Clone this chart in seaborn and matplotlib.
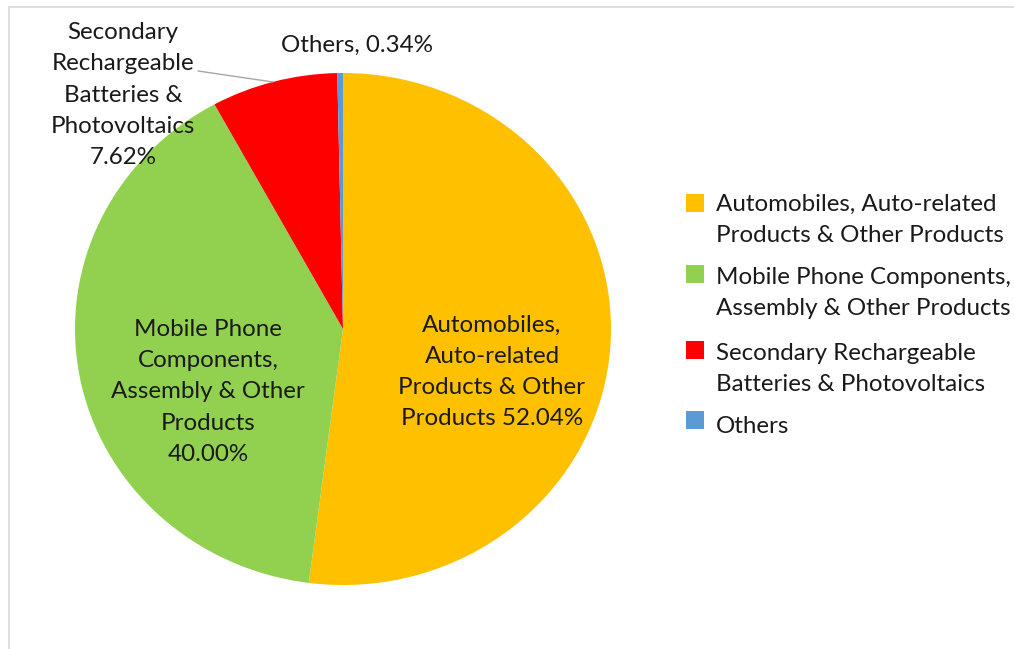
import matplotlib
matplotlib.use("Agg")
import matplotlib.pyplot as plt
import matplotlib.patches as mpatches
import seaborn as sns

categories = ["Automobiles, Auto-related Products & Other Products",
              "Mobile Phone Components, Assembly & Other Products",
              "Secondary Rechargeable Batteries & Photovoltaics",
              "Others"]
values = [52.04, 40.00, 7.62, 0.34]
legend_labels = ["Automobiles, Auto-related\nProducts & Other Products",
                 "Mobile Phone Components,\nAssembly & Other Products",
                 "Secondary Rechargeable\nBatteries & Photovoltaics",
                 "Others"]
slice_labels = ["Automobiles,\nAuto-related\nProducts & Other\nProducts 52.04%",
                "Mobile Phone\nComponents,\nAssembly & Other\nProducts\n40.00%",
                "Secondary\nRechargeable\nBatteries &\nPhotovoltaics\n7.62%",
                "Others, 0.34%"]
colors = ["#FFC000", "#92D050", "#FF0000", "#5B9BD5"]

sns.set_theme(style="white")
plt.rcParams["font.family"] = ["Lato", "DejaVu Sans"]

W, H = 1014, 649
fig = plt.figure(figsize=(W / 100, H / 100), dpi=100)


def fx(x):
    return x / W


def fy(y):
    return 1 - y / H


# chart border (extends past right and bottom edges)
fig.patches.append(mpatches.Rectangle((fx(9), fy(720)), fx(1100), (720 - 7) / H,
                                      transform=fig.transFigure, fill=False,
                                      edgecolor="#d9d9d9", lw=1.2))

left, right, top, bottom = 75, 611, 73, 585
ax = fig.add_axes([fx(left), fy(bottom), (right - left) / W, (bottom - top) / H])
wedges, _ = ax.pie(values, colors=colors, startangle=90, counterclock=False,
                   radius=1, wedgeprops=dict(linewidth=0))
ax.set_aspect("auto")
ax.set_xlim(-1, 1)
ax.set_ylim(-1, 1)
ax.axis("off")

tc = "#1a1a1a"
fs = 17.4
ls = 1.6
fig.text(fx(492), fy(372), slice_labels[0], ha="center", va="center", fontsize=fs,
         color=tc, linespacing=ls)
fig.text(fx(208), fy(392), slice_labels[1], ha="center", va="center", fontsize=fs,
         color=tc, linespacing=ls)
fig.text(fx(123), fy(95), slice_labels[2], ha="center", va="center", fontsize=fs,
         color=tc, linespacing=ls)
fig.text(fx(357), fy(45), slice_labels[3], ha="center", va="center", fontsize=fs,
         color=tc)

# leader line
fig.add_artist(plt.Line2D([fx(198), fx(273)], [fy(71), fy(82)],
                          transform=fig.transFigure, color="#a6a6a6", lw=1))

# legend (markers aligned with the first line of each entry)
first_line_y = [203, 276, 352, 425]
marker_y = [202.5, 274, 350, 420]
for lab, w, y, my in zip(legend_labels, wedges, first_line_y, marker_y):
    fig.patches.append(mpatches.Rectangle((fx(686), fy(my + 9)), 18 / W, 18 / H,
                                          transform=fig.transFigure,
                                          facecolor=w.get_facecolor(), lw=0))
    fig.text(fx(716), fy(y - 9), lab, ha="left", va="top", fontsize=fs,
             color=tc, linespacing=1.56)

fig.savefig("out.png", dpi=100)
